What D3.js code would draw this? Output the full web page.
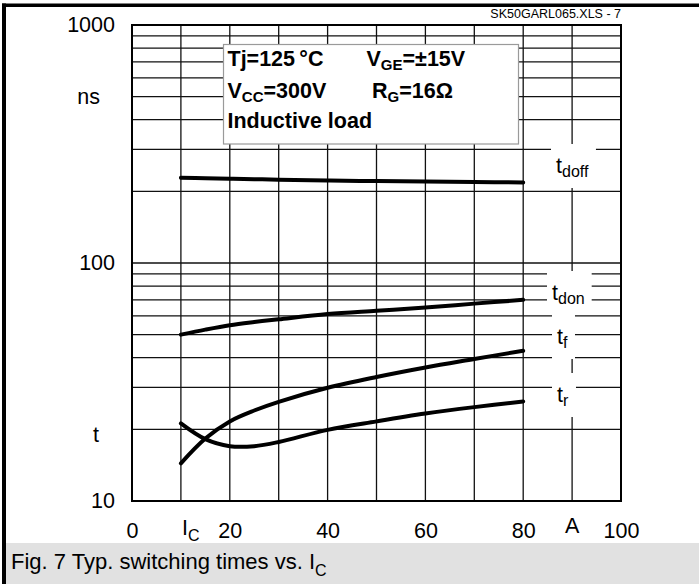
<!DOCTYPE html>
<html>
<head>
<meta charset="utf-8">
<script src="https://cdn.jsdelivr.net/npm/d3@7"></script>
<style>
  body { margin: 0; background: #fff; }
  svg { display: block; font-family: "Liberation Sans", Arial, sans-serif; }
</style>
</head>
<body>
<div id="chart"></div>
<script>
// Data
var currents = [10, 15, 20, 25, 30, 40, 50, 60, 70, 80];
var tdoff = [228, 227, 226, 225, 224, 222, 221, 220, 219, 218];
var tdon  = [50, 52.5, 54.8, 56.5, 58, 61, 63, 65, 67.5, 70];
var tf    = [14.4, 18.3, 21.6, 24.0, 26.1, 29.9, 33.2, 36.4, 39.5, 42.8];
var tr    = [21.2, 18.2, 17.0, 17.0, 17.7, 19.9, 21.6, 23.3, 24.8, 26.2];

var xTicks = [0, 20, 40, 60, 80, 100];
var yTicks = [10, 100, 1000];
var xGrid = [10, 20, 30, 40, 50, 60, 70, 80, 90];
var yGrid = [20, 30, 40, 50, 60, 70, 80, 90, 100, 200, 300, 400, 500, 600, 700, 800, 900];

// Dimensions
var outerWidth = 699;
var outerHeight = 584;
var plotLeft = 132, plotRight = 621, plotTop = 25, plotBottom = 501;
var fontMain = 21.5, fontSub = 16;

var svg = d3.select("#chart").append("svg")
  .attr("width", outerWidth)
  .attr("height", outerHeight);

var x = d3.scaleLinear().domain([0, 100]).range([plotLeft, plotRight]);
var y = d3.scaleLog().domain([10, 1000]).range([plotBottom, plotTop]);

// frame of the figure
svg.append("rect").attr("x", 5).attr("y", 543).attr("width", 694).attr("height", 41).attr("fill", "#e1e1e1");
svg.append("rect").attr("x", 2).attr("y", 3.5).attr("width", 697).attr("height", 3.5).attr("fill", "#000");
svg.append("rect").attr("x", 2).attr("y", 3.5).attr("width", 4).attr("height", 580.5).attr("fill", "#000");

svg.append("text")
  .attr("x", 621).attr("y", 18)
  .attr("text-anchor", "end")
  .attr("font-size", 12.5)
  .text("SK50GARL065.XLS - 7");

// grid
var grid = svg.append("g").attr("stroke", "#111").attr("stroke-width", 1.3);
grid.selectAll(".gx").data(xGrid).enter().append("line")
  .attr("x1", function(d) { return x(d); }).attr("x2", function(d) { return x(d); })
  .attr("y1", plotTop).attr("y2", plotBottom);
grid.selectAll(".gy").data(yGrid).enter().append("line")
  .attr("x1", plotLeft).attr("x2", plotRight)
  .attr("y1", function(d) { return y(d); }).attr("y2", function(d) { return y(d); });

// curves
var series = [
  { name: "doff", values: tdoff, lx: 556, ly: 173 },
  { name: "don", values: tdon, lx: 552, ly: 300 },
  { name: "f", values: tf, lx: 557, ly: 344 },
  { name: "r", values: tr, lx: 557, ly: 402 }
];

var line = d3.line()
  .x(function(d, i) { return x(currents[i]); })
  .y(function(d) { return y(d); })
  .curve(d3.curveCatmullRom.alpha(0.5));

svg.append("g").selectAll("path").data(series).enter().append("path")
  .attr("d", function(s) { return line(s.values); })
  .attr("fill", "none")
  .attr("stroke", "#000")
  .attr("stroke-width", 4)
  .attr("stroke-linecap", "round");

// curve labels with white knock-out boxes
var labG = svg.append("g");
series.forEach(function(s) {
  var g = labG.append("g");
  var rect = g.append("rect").attr("fill", "#fff");
  var t = g.append("text").attr("x", s.lx).attr("y", s.ly).attr("font-size", fontMain);
  t.append("tspan").text("t");
  t.append("tspan").attr("font-size", fontSub).attr("dy", 4).text(s.name);
  var bb = t.node().getBBox();
  rect.attr("x", bb.x - 5).attr("y", bb.y - 10)
    .attr("width", bb.width + 12).attr("height", bb.height + 18);
});

// parameter box
var box = svg.append("g");
box.append("rect")
  .attr("x", 223.5).attr("y", 44.5).attr("width", 295).attr("height", 99.5)
  .attr("fill", "#fff").attr("stroke", "#9a9a9a").attr("stroke-width", 1.2);
var bt = box.append("g").attr("font-weight", "bold").attr("font-size", 21.5);
function sub(a, b, c, x0, y0) {
  var t = bt.append("text").attr("x", x0).attr("y", y0);
  t.append("tspan").text(a);
  if (b) t.append("tspan").attr("font-size", 15).attr("dy", 4).text(b);
  if (c) t.append("tspan").attr("dy", b ? -4 : 0).text(c);
  return t;
}
sub("Tj=125\u2009\u00b0C", null, null, 227.5, 66);
sub("V", "GE", "=\u00b115V", 366.5, 66);
sub("V", "CC", "=300V", 227.5, 98);
sub("R", "G", "=16\u03a9", 372, 98);
sub("Inductive load", null, null, 227.5, 128);

// plot frame
svg.append("rect")
  .attr("x", plotLeft).attr("y", plotTop)
  .attr("width", plotRight - plotLeft).attr("height", plotBottom - plotTop)
  .attr("fill", "none").attr("stroke", "#000").attr("stroke-width", 2);

// axes (labels only)
var yAxis = d3.axisLeft(y).tickValues(yTicks).tickSize(0).tickPadding(17)
  .tickFormat(d3.format("d"));
var yAxisG = svg.append("g").attr("transform", "translate(" + plotLeft + ",0)").call(yAxis);
yAxisG.select(".domain").remove();
yAxisG.selectAll("text").attr("font-size", fontMain).attr("font-family", null).attr("fill", "#000");

var xAxis = d3.axisBottom(x).tickValues(xTicks).tickSize(0).tickPadding(22)
  .tickFormat(d3.format("d"));
var xAxisG = svg.append("g").attr("transform", "translate(0," + plotBottom + ")").call(xAxis);
xAxisG.select(".domain").remove();
xAxisG.selectAll("text").attr("font-size", fontMain).attr("font-family", null).attr("fill", "#000");

// axis titles
svg.append("text").attr("x", 100).attr("y", 104).attr("text-anchor", "end").attr("font-size", fontMain).text("ns");
svg.append("text").attr("x", 99).attr("y", 442).attr("text-anchor", "end").attr("font-size", fontMain).text("t");
var ic = svg.append("text").attr("x", 182).attr("y", 535).attr("font-size", fontMain);
ic.append("tspan").text("I");
ic.append("tspan").attr("font-size", fontSub).attr("dy", 6).text("C");
svg.append("text").attr("x", x(90)).attr("y", 533).attr("text-anchor", "middle").attr("font-size", fontMain).text("A");

// caption
var cap = svg.append("text").attr("x", 11).attr("y", 569).attr("font-size", 22);
cap.append("tspan").text("Fig. 7 Typ. switching times vs. I");
cap.append("tspan").attr("font-size", 16).attr("dy", 7).text("C");
</script>
</body>
</html>
